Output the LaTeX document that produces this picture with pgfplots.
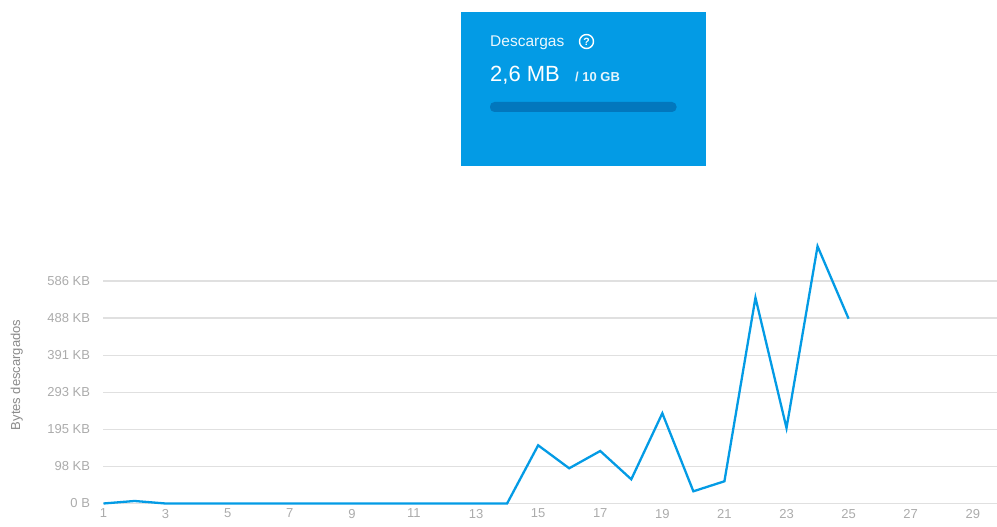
\documentclass[border=0pt]{standalone}
\usepackage{pgfplots}
\pgfplotsset{compat=1.18}
\usepackage{fontspec}
\setmainfont{Liberation Sans}
\definecolor{panel}{HTML}{039BE5}
\definecolor{bar}{HTML}{0277BD}
\definecolor{gridc}{HTML}{E0E0E0}
\definecolor{lab}{HTML}{ABABAB}
\definecolor{ylab}{HTML}{8A8A8A}
\pgfplotstableread{
x y
1 0
2 6.6
3 0
4 0
5 0
6 0
7 0
8 0
9 0
10 0
11 0
12 0
13 0
14 0
15 153.3
16 92.7
17 138.3
18 63.7
19 237.6
20 32.1
21 58.5
22 542
23 198.8
24 677.4
25 486.7
}\downloads
\begin{document}
\begin{tikzpicture}[x=1pt,y=1pt]
\path[use as bounding box] (0,0) rectangle (997,527);
% panel (pixel coordinates, y flipped)
\fill[panel] (460.5,527-12) rectangle (706,527-166);
\node[anchor=base west,inner sep=0pt,text=white,font=\fontsize{15.5}{16}\selectfont,opacity=.92] at (490,527-47) {Descargas};
\draw[white,line width=1.4pt] (586.5,527-41.5) circle (7);
\node[text=white,inner sep=0pt,font=\fontsize{10.5}{11}\selectfont\bfseries] at (586.5,527-41.5) {?};
\node[anchor=base west,inner sep=0pt,text=white,font=\fontsize{22}{24}\selectfont] at (490,527-82) {2,6 MB};
\node[anchor=base west,inner sep=0pt,text=white,font=\fontsize{13}{14}\selectfont\bfseries,opacity=.9] at (575,527-82) {/ 10 GB};
\fill[bar,rounded corners=4.5pt] (490,527-102) rectangle (676.5,527-112);
\begin{axis}[
  at={(103.5pt,23.5pt)},anchor=origin,
  anchor=south west,
  scale only axis,
  width=893.5pt,height=265.8pt,
  xmin=1,xmax=29.78,ymin=0,ymax=700,
  axis line style={draw=none},
  tick style={draw=none},
  clip=false,
  xtick={1,3,...,29},
  ytick={0,97.66,195.3,293,390.6,488.3,585.9},
  yticklabels={0 B,98 KB,195 KB,293 KB,391 KB,488 KB,586 KB},
  ymajorgrids,
  grid style={gridc,line width=1.3pt},
  /pgf/number format/assume math mode=true,
  tick label style={text=lab,font=\fontsize{13}{14}\selectfont},
  xticklabel style={yshift=-2pt},
  yticklabel style={xshift=-10pt},
  major tick length=0pt,
  ylabel={Bytes descargados},
  ylabel style={text=ylab,font=\fontsize{13}{14}\selectfont,at={(axis description cs:-0.097,0.484)},anchor=center},
]
\addplot[panel,line width=2.3pt,line join=miter,no marks] table[x=x,y=y] {\downloads};
\end{axis}
\end{tikzpicture}
\end{document}
